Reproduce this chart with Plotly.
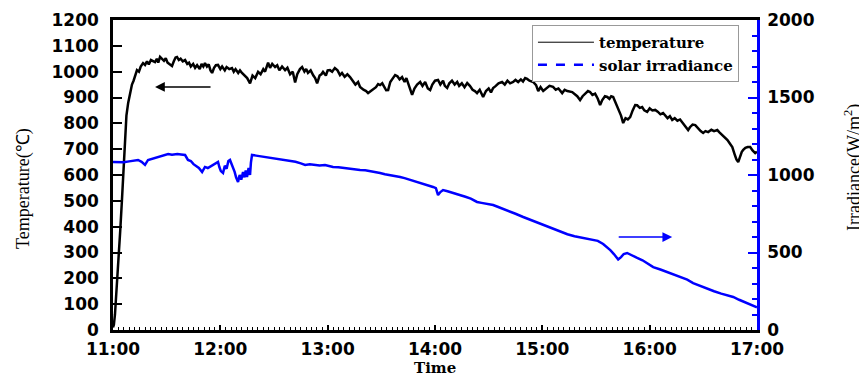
import plotly.graph_objects as go

# ---- data (minutes after 11:00) ----
temp_minutes = [0, 0.5, 1.1, 2.0, 2.8, 4.0, 5.0, 6.0, 6.7, 7.5, 8.5, 9.5, 10.6, 11.5, 12.5, 13.4, 14.5, 15.5,
                16.8, 17.9, 19.0, 20.0, 21.2, 22.4, 23.5, 24.5, 25.3, 26.3, 27.4, 28.5, 29.5, 30.5, 31.5, 33.0,
                34.0, 35.0, 35.8, 36.8, 37.8, 39.0, 40.3, 41.5, 42.5, 43.5, 44.8, 45.9, 47.0, 48.5, 49.5, 50.5,
                51.4, 52.5, 53.5, 54.5, 55.4, 56.5, 57.5, 58.7, 60.0, 61.0, 62.5, 63.5, 65.0, 66.5, 67.5, 68.5,
                70.0, 71.0, 72.1, 73.5, 75.0, 76.6, 78.0, 79.5, 81.1, 82.5, 84.0, 85.0, 86.7, 87.8, 89.0, 90.6,
                91.8, 93.0, 94.5, 96.2, 97.5, 99.0, 100.5, 101.8, 103.0, 104.5, 105.7, 107.0, 108.0, 109.0,
                110.5, 112.0, 113.0, 114.1, 115.5, 116.5, 117.4, 119.0, 120.0, 121.3, 122.5, 124.0, 125.5,
                126.9, 128.0, 129.5, 131.0, 132.5, 134.0, 135.5, 137.0, 138.1, 140.0, 141.5, 142.6, 144.0,
                145.5, 147.0, 148.2, 149.3, 150.5, 151.5, 152.7, 153.8, 155.0, 156.5, 157.7, 159.0, 160.2,
                161.6, 163.0, 164.0, 165.5, 167.2, 168.5, 170.0, 171.7, 173.0, 174.5, 176.0, 177.3, 178.5,
                180.0, 181.7, 183.0, 184.5, 185.5, 186.8, 188.0, 189.5, 191.0, 192.4, 193.5, 195.0, 196.5,
                198.0, 199.5, 201.0, 202.3, 203.5, 205.0, 206.9, 208.5, 210.0, 211.3, 212.5, 214.0, 215.5,
                217.5, 219.0, 220.5, 222.0, 223.7, 225.0, 226.5, 228.0, 229.2, 230.4, 231.5, 232.8, 234.9,
                236.5, 237.7, 239.0, 240.5, 242.0, 244.0, 246.0, 247.5, 249.0, 251.1, 252.5, 254.0, 256.7,
                258.0, 259.5, 261.1, 262.5, 264.0, 265.5, 266.7, 268.0, 269.5, 271.0, 272.3, 273.5, 275.0,
                276.3, 277.5, 278.5, 279.6, 281.0, 282.5, 284.0, 285.2, 286.5, 287.8, 289.1, 290.5, 291.9,
                293.0, 294.5, 295.8, 297.0, 298.6, 300.0, 301.5, 303.1, 304.5, 306.0, 307.5, 308.7, 310.0,
                311.3, 312.6, 314.0, 315.5, 317.0, 318.2, 319.5, 320.5, 321.5, 322.5, 324.0, 325.5, 327.0,
                328.5, 329.9, 331.2, 332.7, 334.5, 336.0, 337.8, 339.0, 340.5, 342.2, 343.5, 345.0, 346.2,
                347.5, 348.5, 349.5, 350.5, 351.5, 352.3, 353.5, 354.8, 356.2, 357.5, 359.0, 360.0]
temperature = [10, 20, 60, 150, 244, 380, 503, 640, 762, 830, 880, 920, 950, 965, 985, 1006, 1000, 1020,
               1033, 1026, 1040, 1028, 1045, 1040, 1037, 1050, 1035, 1057, 1050, 1042, 1052, 1035, 1030, 1022,
               1040, 1055, 1057, 1045, 1050, 1040, 1045, 1030, 1035, 1020, 1030, 1015, 1025, 1010, 1030, 1020,
               1033, 1020, 1028, 1005, 995, 1015, 1025, 1026, 1010, 1020, 1005, 1018, 1010, 1014, 1000, 1010,
               995, 1005, 995, 985, 975, 955, 985, 975, 999, 990, 1010, 1000, 1035, 1015, 1030, 1018,
               1025, 1005, 1020, 1006, 1015, 990, 1000, 958, 990, 1010, 1018, 1000, 1010, 995,
               1005, 985, 975, 955, 985, 990, 999, 985, 1005, 1006, 1000, 1014, 1005,
               987, 995, 980, 990, 979, 965, 950, 960, 941, 930, 925, 917, 925,
               935, 940, 952, 948, 955, 940, 928, 929, 960, 975, 987, 982, 970,
               979, 960, 975, 945, 910, 935, 950, 960, 945, 960, 935, 929, 950,
               965, 968, 950, 965, 945, 937, 955, 965, 950, 960, 945, 955, 940,
               956, 945, 930, 925, 917, 930, 902, 925, 935, 920, 937, 945, 955,
               960, 950, 965, 955, 960, 968, 960, 970, 962, 975, 972, 965, 960,
               948, 925, 940, 925, 935, 945, 941, 930, 935, 917, 930, 925, 921,
               915, 905, 890, 905, 915, 925, 921, 910, 915, 895, 871, 890, 905,
               902, 895, 905, 902, 880, 860, 830, 801, 820, 815, 824, 850, 871,
               870, 860, 863, 850, 844, 858, 850, 852, 845, 835, 840, 832, 820,
               828, 813, 820, 810, 815, 805, 795, 785, 774, 785, 795, 793, 780,
               770, 763, 770, 766, 775, 770, 774, 765, 755, 747, 735, 720, 708,
               680, 660, 650, 670, 690, 697, 705, 708, 708, 695, 685, 690]

irr_minutes = [0, 3, 6, 9, 12, 14.0, 16.0, 17.9, 19.6, 22, 25, 28, 30.8, 33, 36, 38, 40.3, 41.9, 43.5, 45,
               46.5, 48, 49.8, 51.4, 53, 55, 57, 58.7, 59.5, 60.3, 61.5, 62.5, 63.5, 64.5, 65.4, 66.2, 67.1,
               68.0, 68.8, 69.9, 70.8, 71.7, 72.7, 73.5, 74.2, 74.9, 75.8, 76.6, 77.1, 77.7, 80, 82.5, 85.0,
               88, 91, 93.5, 96.2, 99, 102, 105, 107.4, 110, 113, 115.5, 118.5, 121, 123.0, 126, 129, 132,
               135, 138.1, 141, 144, 146.5, 149.3, 152, 155, 158, 160.5, 163, 166, 169, 171.7, 174, 176.5,
               178.9, 180.5, 181.7, 183, 184.5, 187, 190, 192, 194.0, 197, 200, 203.5, 206, 209, 212.5, 215,
               218, 222.0, 225, 229.3, 233, 237.7, 241, 245, 250.0, 254, 258, 262, 265, 268.4, 271, 274,
               276.3, 278, 280, 282.4, 284, 285.5, 287.4, 290, 293, 296, 299, 302.0, 306, 310, 314, 318,
               321, 324.3, 328, 332, 336, 340, 343, 346.7, 350, 353, 356, 359, 360]
irradiance = [1084, 1085, 1082, 1088, 1092, 1097, 1085, 1065, 1097, 1105, 1115, 1125, 1135, 1130, 1135, 1132,
              1129, 1097, 1090, 1070, 1060, 1045, 1019, 1052, 1045, 1060, 1070, 1084, 1050, 1025, 1013, 1060,
              1040, 1090, 1097, 1075, 1052, 1020, 985, 955, 1000, 970, 1019, 985, 1030, 987, 1045, 1000, 1080,
              1129, 1125, 1120, 1116, 1112, 1105, 1100, 1097, 1092, 1085, 1075, 1065, 1070, 1068, 1062, 1065,
              1055, 1052, 1050, 1045, 1040, 1035, 1032, 1030, 1025, 1018, 1013, 1005, 1000, 995, 987, 980,
              970, 960, 948, 940, 932, 923, 915, 871, 890, 903, 895, 885, 880, 871, 860, 848, 826, 820, 815,
              806, 795, 780, 761, 750, 729, 712, 690, 675, 655, 632, 618, 605, 595, 588, 581, 575, 555, 535,
              515, 490, 455, 470, 490, 497, 480, 465, 450, 430, 406, 390, 372, 355, 338, 325, 303, 285, 268,
              250, 235, 225, 213, 195, 180, 165, 150, 146]

x_tick_vals = [0, 60, 120, 180, 240, 300, 360]
x_tick_labels = ["11:00", "12:00", "13:00", "14:00", "15:00", "16:00", "17:00"]
series_names = ["temperature", "solar irradiance"]
axis_titles = {"x": "Time", "y": "Temperature(℃)", "y2": "Irradiance(W/m<sup>2</sup>)"}

TICK_FONT = dict(family="DejaVu Sans", size=17, color="black", weight="bold")
SERIF = "Liberation Serif"
BLUE = "#0000ff"

fig = go.Figure()
fig.add_trace(go.Scatter(x=temp_minutes, y=temperature, mode="lines",
                         line=dict(color="black", width=2.5), showlegend=False, name=series_names[0]))
fig.add_trace(go.Scatter(x=irr_minutes, y=irradiance, mode="lines", yaxis="y2",
                         line=dict(color=BLUE, width=2.5), showlegend=False, name=series_names[1]))
# legend entries (styled as in the original key)
fig.add_trace(go.Scatter(x=[None], y=[None], mode="lines", name=series_names[0],
                         line=dict(color="black", width=1)))
fig.add_trace(go.Scatter(x=[None], y=[None], mode="lines", name=series_names[1], yaxis="y2",
                         line=dict(color=BLUE, width=2.5, dash="dash")))

# the page body adds an 8px offset, so the figure is sized 8px smaller
fig.update_layout(
    width=859, height=369,
    margin=dict(l=105, r=110, t=12, b=47, autoexpand=False),
    plot_bgcolor="white", paper_bgcolor="white",
    xaxis=dict(range=[0, 360], tickmode="array", tickvals=x_tick_vals, ticktext=x_tick_labels,
               ticks="inside", ticklen=5, tickwidth=2, tickcolor="black", automargin=False,
               showline=True, linewidth=2.5, linecolor="black", mirror=True,
               showgrid=False, zeroline=False, tickfont=TICK_FONT, ticklabelstandoff=2,
               minor=dict(tickmode="linear", tick0=0, dtick=3, ticks="inside", ticklen=3,
                          tickwidth=1, tickcolor="black", showgrid=False)),
    yaxis=dict(range=[0, 1200], dtick=100, tick0=0, ticks="inside", ticklen=9, tickwidth=2,
               tickcolor="black", showline=True, linewidth=2.5, linecolor="black", automargin=False,
               showgrid=False, zeroline=False, tickfont=TICK_FONT, ticklabelstandoff=8),
    yaxis2=dict(range=[0, 2000], dtick=500, tick0=0, overlaying="y", side="right",
                ticks="inside", ticklen=9, tickwidth=2, tickcolor=BLUE, automargin=False,
                showline=True, linewidth=2.5, linecolor=BLUE,
                showgrid=False, zeroline=False, tickfont=TICK_FONT, ticklabelstandoff=4,
                minor=dict(tickmode="linear", tick0=0, dtick=100, ticks="inside", ticklen=5,
                           tickwidth=1.5, tickcolor=BLUE, showgrid=False)),
    legend=dict(x=0.972, y=0.984, xanchor="right", yanchor="top", bgcolor="white",
                bordercolor="#999999", borderwidth=1, itemwidth=56,
                font=dict(family="DejaVu Serif", size=15, color="black", weight="bold"),
                tracegroupgap=0),
    annotations=[
        dict(x=23.5, y=941, xref="x", yref="y", ax=57, ay=0, axref="pixel", ayref="pixel",
             text="", showarrow=True, arrowhead=2, arrowsize=1.3, arrowwidth=1.5, arrowcolor="black"),
        dict(x=312.6, y=600, xref="x", yref="y2", ax=-55, ay=0, axref="pixel", ayref="pixel",
             text="", showarrow=True, arrowhead=2, arrowsize=1.3, arrowwidth=1.5, arrowcolor=BLUE),
        dict(text=axis_titles["x"], x=0.5, y=-0.1226, xref="paper", yref="paper", showarrow=False,
             xanchor="center", yanchor="middle",
             font=dict(family="DejaVu Serif", size=15, color="black", weight="bold")),
        dict(text=axis_titles["y"], x=-0.1398, y=0.458, xref="paper", yref="paper", showarrow=False,
             textangle=-90, xanchor="center", yanchor="middle",
             font=dict(family=SERIF, size=18, color="black")),
        dict(text=axis_titles["y2"], x=1.149, y=0.526, xref="paper", yref="paper", showarrow=False,
             textangle=-90, xanchor="center", yanchor="middle",
             font=dict(family=SERIF, size=18, color="black")),
    ],
)

fig.write_html("out.html")
